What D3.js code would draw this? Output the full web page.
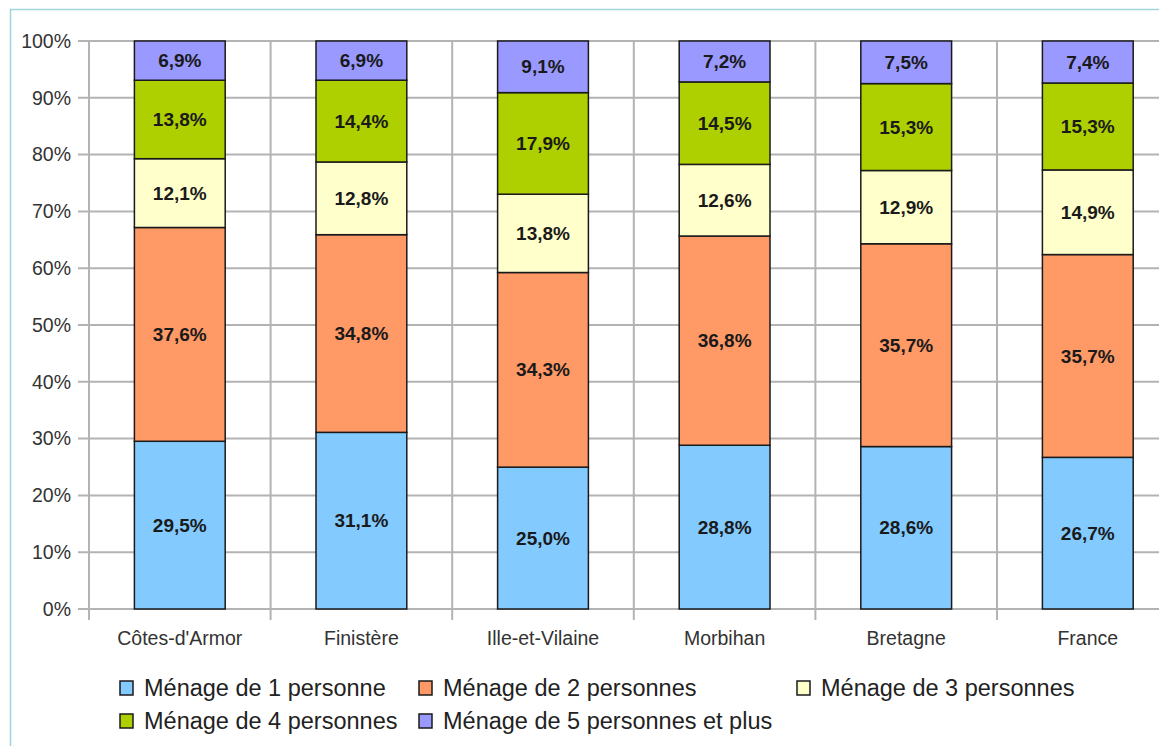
<html>
<head>
<meta charset="utf-8">
<script src="https://d3js.org/d3.v7.min.js"></script>
<style>
  body { margin: 0; background: #fff; }
  text { font-family: "Liberation Sans", Arial, sans-serif; }
</style>
</head>
<body>
<svg width="1159" height="746"></svg>
<script>
// categories and series (percent of households)
var regions = ["Côtes-d'Armor", "Finistère", "Ille-et-Vilaine", "Morbihan", "Bretagne", "France"];
var seriesNames = ["Ménage de 1 personne", "Ménage de 2 personnes", "Ménage de 3 personnes",
                   "Ménage de 4 personnes", "Ménage de 5 personnes et plus"];
var p1 = [29.5, 31.1, 25.0, 28.8, 28.6, 26.7];
var p2 = [37.6, 34.8, 34.3, 36.8, 35.7, 35.7];
var p3 = [12.1, 12.8, 13.8, 12.6, 12.9, 14.9];
var p4 = [13.8, 14.4, 17.9, 14.5, 15.3, 15.3];
var p5 = [6.9, 6.9, 9.1, 7.2, 7.5, 7.4];
var yTicks = [0, 0.1, 0.2, 0.3, 0.4, 0.5, 0.6, 0.7, 0.8, 0.9, 1];
var colors = ["#83caff", "#ff9966", "#ffffcc", "#aecf00", "#9999ff"];

var series = [p1, p2, p3, p4, p5];

var svg = d3.select("svg");

// outer frame
svg.append("rect").attr("x", 10.5).attr("y", 9.5).attr("width", 1200).attr("height", 800)
  .attr("fill", "none").attr("stroke", "#9ed6dc").attr("stroke-width", 1.5);

var plotL = 89, plotT = 41, plotB = 609, step = 181.6;
var x = d3.scaleBand().domain(regions).range([plotL, plotL + step * regions.length]);
var y = d3.scaleLinear().domain([0, 1]).range([plotB, plotT]);

// build stacked table, normalised to 100 %
var table = regions.map(function(r, i) {
  var row = {region: r};
  var tot = 0;
  series.forEach(function(s) { tot += s[i]; });
  series.forEach(function(s, k) { row["s" + k] = s[i] / tot; row["v" + k] = s[i]; });
  return row;
});
var stack = d3.stack().keys(series.map(function(d, k) { return "s" + k; }))(table);

var grid = svg.append("g");
// horizontal gridlines
grid.selectAll("line.h").data(yTicks).enter().append("line")
  .attr("x1", 78).attr("x2", 1159)
  .attr("y1", function(d) { return y(d); }).attr("y2", function(d) { return y(d); })
  .attr("stroke", "#b3b3b3").attr("stroke-width", 2);
// vertical gridlines at category boundaries
var bounds = regions.map(function(r) { return x(r); });
grid.selectAll("line.v").data(bounds).enter().append("line")
  .attr("x1", function(d) { return d; }).attr("x2", function(d) { return d; })
  .attr("y1", plotT).attr("y2", plotB + 11)
  .attr("stroke", "#b3b3b3").attr("stroke-width", 2);

// y labels
svg.append("g").selectAll("text").data(yTicks).enter().append("text")
  .attr("x", 71).attr("y", function(d) { return y(d); })
  .attr("dy", "0.35em").attr("text-anchor", "end")
  .attr("font-size", 19.5).attr("fill", "#333")
  .text(function(d) { return Math.round(d * 100) + "%"; });

// x labels
svg.append("g").selectAll("text").data(regions).enter().append("text")
  .attr("x", function(d) { return x(d) + x.bandwidth() / 2; }).attr("y", 638)
  .attr("dy", "0.35em").attr("text-anchor", "middle")
  .attr("font-size", 19.5).attr("fill", "#333")
  .text(function(d) { return d; });

// bars
var barW = x.bandwidth() / 2;
stack.forEach(function(layer, k) {
  var g = svg.append("g");
  g.selectAll("rect").data(layer).enter().append("rect")
    .attr("x", function(d) { return x(d.data.region) + (x.bandwidth() - barW) / 2; })
    .attr("y", function(d) { return y(d[1]); })
    .attr("width", barW)
    .attr("height", function(d) { return y(d[0]) - y(d[1]); })
    .attr("fill", colors[k]).attr("stroke", "#1a1a1a").attr("stroke-width", 1.5);
  g.selectAll("text").data(layer).enter().append("text")
    .attr("x", function(d) { return x(d.data.region) + x.bandwidth() / 2; })
    .attr("y", function(d) { return y((d[0] + d[1]) / 2); })
    .attr("dy", "0.35em").attr("text-anchor", "middle")
    .attr("font-size", 19).attr("font-weight", "bold").attr("fill", "#1a1a1a")
    .text(function(d) { return d3.format(".1f")(d.data["v" + k]).replace(".", ",") + "%"; });
});

// legend
var legPos = [[120, 688], [419, 688], [797, 688], [120, 721], [419, 721]];
var leg = svg.append("g").selectAll("g").data(seriesNames).enter().append("g")
  .attr("transform", function(d, i) { return "translate(" + legPos[i][0] + "," + legPos[i][1] + ")"; });
leg.append("rect").attr("x", 0).attr("y", -7).attr("width", 13).attr("height", 14)
  .attr("fill", function(d, i) { return colors[i]; })
  .attr("stroke", "#1a1a1a").attr("stroke-width", 1.5);
leg.append("text").attr("x", 24).attr("y", 0).attr("dy", "0.35em")
  .attr("font-size", 23.5).attr("fill", "#222")
  .text(function(d) { return d; });
</script>
</body>
</html>
